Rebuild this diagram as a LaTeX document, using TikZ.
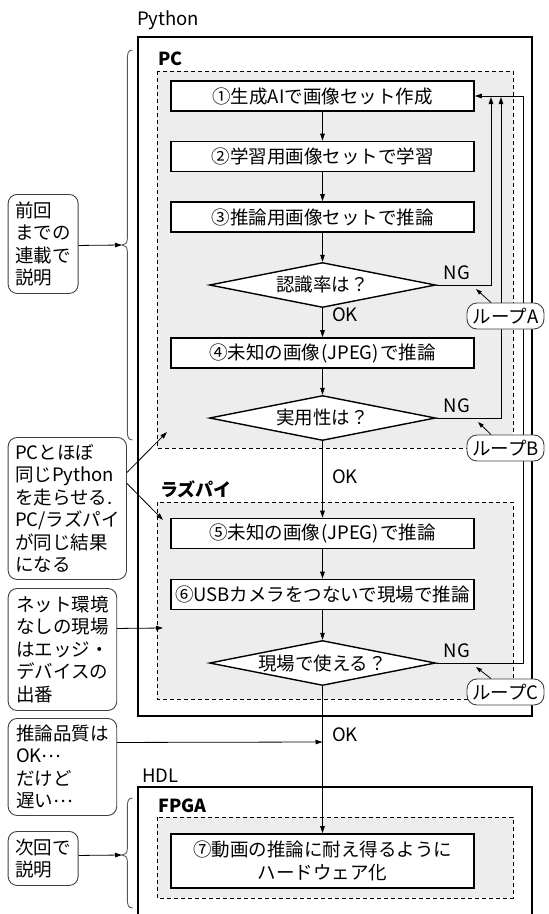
\documentclass[tikz,border=0pt]{standalone}
\usepackage{fontspec}
\setmainfont{Noto Sans CJK JP}
\usetikzlibrary{arrows.meta,shapes.geometric}
\newcommand\mybrc[3]{%
  \draw[brc] (132.5,#1) .. controls (128.5,#1) and (127.3,{#1+3}) .. (127.3,{#1+9})
    -- (127.3,{#2-6}) .. controls (127.3,{#2-2}) and (125,#2) .. (122,#2)
    .. controls (125,#2) and (127.3,{#2+2}) .. (127.3,{#2+6})
    -- (127.3,{#3-9}) .. controls (127.3,{#3-3}) and (128.5,#3) .. (132.5,#3);}
\newcommand\jp[1]{\hspace{1.5pt}(#1)\hspace{1.5pt}}
\newcommand\mydots{\raisebox{0.3em}{…}}
\begin{document}
\begin{tikzpicture}[x=1pt,y=-1pt,
  every node/.style={font=\fontsize{18.5}{22.5}\selectfont, inner sep=0pt},
  stepbox/.style={draw, line width=1.6pt, fill=white, minimum width=303pt, minimum height=30pt, align=center},
  dia/.style={draw, diamond, line width=1.4pt, fill=white, minimum width=226pt, minimum height=45pt, inner sep=0pt},
  zone/.style={draw, dash pattern=on 4pt off 3pt, line width=0.8pt, fill=black!7},
  outer/.style={draw, line width=1.3pt},
  callout/.style={draw=black!75, line width=0.9pt, rounded corners=9pt, align=left, anchor=north west, inner xsep=7pt},
  loopl/.style={draw=black!75, fill=white, line width=0.9pt, rounded corners=10pt, minimum width=77pt, minimum height=26pt},
  arr/.style={-{Triangle[length=7pt,width=4.5pt]}, line width=0.8pt},
  arrs/.style={-{Triangle[length=6pt,width=4pt]}, line width=0.8pt},
  brc/.style={draw=black!65, line width=0.9pt},
  boldlab/.style={anchor=west, font=\bfseries\fontsize{18}{20}\selectfont},
]
\useasboundingbox (0,0) rectangle (549,914);

% outer frames
\draw[outer] (138,37) rectangle (532,716);
\draw[outer] (138,914) -- (138,787) -- (532,787) -- (532,914);
\node[anchor=west] (lpy) at (137,20) {Python};
\node[anchor=west] (lhdl) at (142,776) {HDL};

% zones
\draw[zone] (157,71) rectangle (513,448);
\draw[zone] (157,502) rectangle (513,699);
\draw[zone] (157,817) rectangle (513,898);
\node[boldlab] (lpc) at (158,59) {PC};
\node[boldlab] (lrp) at (160,489) {ラズパイ};
\node[boldlab] (lfp) at (158,806) {FPGA};

% steps
\node[stepbox] (b1) at (322.5,96) {①生成AIで画像セット作成};
\node[stepbox] (b2) at (322.5,156.5) {②学習用画像セットで学習};
\node[stepbox] (b3) at (322.5,217) {③推論用画像セットで推論};
\node[dia] (d1) at (322.5,285) {};
\node (d1t) at (d1) {認識率は？};
\node[stepbox] (b4) at (322.5,353) {④未知の画像\jp{JPEG}で推論};
\node[dia] (d2) at (322.5,418) {};
\node (d2t) at (d2) {実用性は？};
\node[stepbox] (b5) at (322.5,533.5) {⑤未知の画像\jp{JPEG}で推論};
\node[stepbox] (b6) at (322.5,594.5) {⑥USBカメラをつないで現場で推論};
\node[dia] (d3) at (322.5,663) {};
\node (d3t) at (d3) {現場で使える？};
\node[stepbox, minimum height=54pt] (b7) at (322.5,861) {⑦動画の推論に耐え得るように\\ハードウェア化};

% main flow
\draw[arr] (b1) -- (b2);
\draw[arr] (b2) -- (b3);
\draw[arr] (b3) -- (d1);
\draw[arr] (d1) -- (b4);
\draw[arr] (b4) -- (d2);
\draw[arr] (d2) -- (b5);
\draw[arr] (b5) -- (b6);
\draw[arr] (b6) -- (d3);
\draw[arr] (d3) -- (b7);
\node[anchor=west] (ok1) at (332,315) {OK};
\node[anchor=west] (ok2) at (332,477) {OK};
\node[anchor=west] (ok3) at (332,735) {OK};

% loops
\coordinate (ca) at (491,97);
\coordinate (cb) at (501,97);
\coordinate (cc) at (523,96);
\draw[arr] (d1.east) -| (ca);
\draw[arr] (d2.east) -| (cb);
\draw[arr] (d3.east) -| (cc) -- (b1.east);
\node (ng1) at (457,273) {NG};
\node (ng2) at (457,406) {NG};
\node (ng3) at (457,651) {NG};
\node[loopl] (la) at (505.5,316) {ループA};
\node[loopl] (lb) at (505.5,448) {ループB};
\node[loopl] (lc) at (505.5,692) {ループC};
\coordinate (ta) at (476,289);
\coordinate (tb) at (478,422);
\coordinate (tc) at (476,667);
\draw[arrs] ([xshift=-14.5pt]la.north) -- (ta);
\draw[arrs] ([xshift=-14.5pt]lb.north) -- (tb);
\draw[arrs] ([xshift=-14.5pt]lc.north) -- (tc);

% braces
\mybrc{50}{245}{440}
\mybrc{798}{855}{908}
\coordinate (br1) at (122,245);
\coordinate (br2) at (122,855);

% callouts
\node[callout, minimum width=70pt, minimum height=99pt] (c1) at (7.7,194) {前回\\までの\\連載で\\説明};
\node[callout, minimum width=117pt, minimum height=142pt] (c2) at (7.7,437) {PCとほぼ\\同じPython\\を走らせる.\\PC/ラズパイ\\が同じ結果\\になる};
\node[callout, minimum width=108.6pt, minimum height=122pt] (c3) at (7.7,588) {ネット環境\\なしの現場\\はエッジ・\\デバイスの\\出番};
\node[callout, minimum width=108.6pt, minimum height=97pt] (c4) at (7.7,718) {推論品質は\\OK\mydots\\だけど\\遅い\mydots};
\node[callout, minimum width=70pt, minimum height=54pt] (c5) at (7.7,831) {次回で\\説明};

\coordinate (t2a) at (167,432);
\coordinate (t2b) at (163,520);
\coordinate (t3) at (163,628);
\coordinate (t4) at (322.5,742);
\draw[arr] ([yshift=-1.5pt]c1.east) -- (br1);
\draw[arr] ([yshift=36pt]c2.east) -- (t2a);
\draw[arr] ([yshift=25pt]c2.east) -- (t2b);
\draw[arr] ([yshift=21pt]c3.east) -- (t3);
\draw[arr] ([yshift=24.5pt]c4.east) -- (t4);
\draw[arr] ([yshift=3pt]c5.east) -- (br2);
\end{tikzpicture}
\end{document}
